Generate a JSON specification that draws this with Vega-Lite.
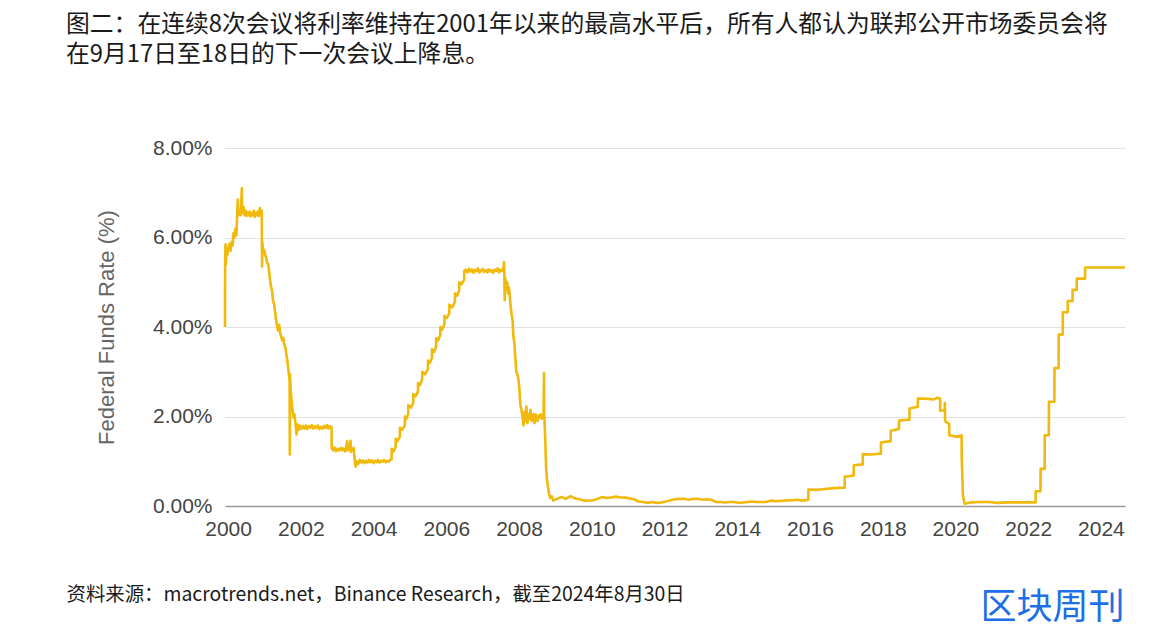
{
  "$schema": "https://vega.github.io/schema/vega-lite/v6.json",
  "width": 900,
  "height": 358,
  "autosize": {"type": "none"},
  "padding": {"left": 225, "top": 148, "right": 45, "bottom": 132},
  "background": "white",
  "title": {
    "text": ["图二：在连续8次会议将利率维持在2001年以来的最高水平后，所有人都认为联邦公开市场委员会将", "在9月17日至18日的下一次会议上降息。"],
    "anchor": "start",
    "frame": "group",
    "dx": -159,
    "offset": 70,
    "font": "Noto Sans CJK SC",
    "fontSize": 23.8,
    "fontWeight": "normal",
    "lineHeight": 30,
    "color": "#1a1a1a"
  },
  "config": {"view": {"stroke": null}},
  "layer": [
    {
      "data": {"values": [
        {"date": "1999-12-01", "rate": 4.00},
        {"date": "1999-12-02", "rate": 5.30},
        {"date": "1999-12-06", "rate": 5.85},
        {"date": "1999-12-10", "rate": 5.40},
        {"date": "1999-12-16", "rate": 5.75},
        {"date": "1999-12-24", "rate": 5.60},
        {"date": "2000-01-05", "rate": 5.78},
        {"date": "2000-01-15", "rate": 5.86},
        {"date": "2000-01-25", "rate": 5.70},
        {"date": "2000-02-05", "rate": 5.90},
        {"date": "2000-02-15", "rate": 5.82},
        {"date": "2000-02-25", "rate": 6.10},
        {"date": "2000-03-05", "rate": 6.00},
        {"date": "2000-03-15", "rate": 6.20},
        {"date": "2000-03-25", "rate": 6.05},
        {"date": "2000-04-01", "rate": 6.50},
        {"date": "2000-04-08", "rate": 6.85},
        {"date": "2000-04-12", "rate": 6.55},
        {"date": "2000-04-22", "rate": 6.50},
        {"date": "2000-05-01", "rate": 6.62},
        {"date": "2000-05-08", "rate": 6.50},
        {"date": "2000-05-18", "rate": 7.10},
        {"date": "2000-05-22", "rate": 6.55},
        {"date": "2000-06-05", "rate": 6.68},
        {"date": "2000-06-15", "rate": 6.50},
        {"date": "2000-06-25", "rate": 6.60},
        {"date": "2000-07-05", "rate": 6.48},
        {"date": "2000-07-15", "rate": 6.56},
        {"date": "2000-07-25", "rate": 6.50},
        {"date": "2000-08-05", "rate": 6.58},
        {"date": "2000-08-15", "rate": 6.47},
        {"date": "2000-08-25", "rate": 6.54},
        {"date": "2000-09-05", "rate": 6.50},
        {"date": "2000-09-15", "rate": 6.60},
        {"date": "2000-09-25", "rate": 6.46},
        {"date": "2000-10-05", "rate": 6.55},
        {"date": "2000-10-15", "rate": 6.50},
        {"date": "2000-10-25", "rate": 6.58},
        {"date": "2000-11-05", "rate": 6.48},
        {"date": "2000-11-15", "rate": 6.66},
        {"date": "2000-11-25", "rate": 6.52},
        {"date": "2000-12-04", "rate": 6.60},
        {"date": "2000-12-07", "rate": 5.35},
        {"date": "2000-12-10", "rate": 5.90},
        {"date": "2000-12-18", "rate": 5.65},
        {"date": "2000-12-28", "rate": 5.72},
        {"date": "2001-01-08", "rate": 5.60},
        {"date": "2001-01-18", "rate": 5.55},
        {"date": "2001-01-28", "rate": 5.42},
        {"date": "2001-02-08", "rate": 5.40},
        {"date": "2001-02-18", "rate": 5.20},
        {"date": "2001-02-26", "rate": 5.05},
        {"date": "2001-03-08", "rate": 4.90},
        {"date": "2001-03-18", "rate": 4.80},
        {"date": "2001-03-28", "rate": 4.58},
        {"date": "2001-04-08", "rate": 4.50},
        {"date": "2001-04-18", "rate": 4.32},
        {"date": "2001-04-28", "rate": 4.15},
        {"date": "2001-05-08", "rate": 4.00},
        {"date": "2001-05-18", "rate": 3.92},
        {"date": "2001-05-28", "rate": 4.05},
        {"date": "2001-06-08", "rate": 3.85},
        {"date": "2001-06-18", "rate": 3.78},
        {"date": "2001-06-28", "rate": 3.70},
        {"date": "2001-07-08", "rate": 3.76},
        {"date": "2001-07-18", "rate": 3.62},
        {"date": "2001-07-28", "rate": 3.55},
        {"date": "2001-08-08", "rate": 3.40},
        {"date": "2001-08-18", "rate": 3.25},
        {"date": "2001-08-28", "rate": 3.05},
        {"date": "2001-09-06", "rate": 2.90},
        {"date": "2001-09-10", "rate": 2.80},
        {"date": "2001-09-12", "rate": 1.15},
        {"date": "2001-09-14", "rate": 2.95},
        {"date": "2001-09-20", "rate": 2.60},
        {"date": "2001-09-28", "rate": 2.40},
        {"date": "2001-10-08", "rate": 2.15},
        {"date": "2001-10-18", "rate": 1.98},
        {"date": "2001-10-28", "rate": 2.05},
        {"date": "2001-11-08", "rate": 1.85},
        {"date": "2001-11-18", "rate": 1.60},
        {"date": "2001-11-28", "rate": 1.82},
        {"date": "2001-12-08", "rate": 1.70},
        {"date": "2001-12-18", "rate": 1.80},
        {"date": "2002-01-05", "rate": 1.72},
        {"date": "2002-01-20", "rate": 1.79},
        {"date": "2002-02-05", "rate": 1.73},
        {"date": "2002-02-20", "rate": 1.80},
        {"date": "2002-03-05", "rate": 1.72},
        {"date": "2002-03-20", "rate": 1.78},
        {"date": "2002-04-05", "rate": 1.75},
        {"date": "2002-04-20", "rate": 1.81},
        {"date": "2002-05-05", "rate": 1.73},
        {"date": "2002-05-20", "rate": 1.78},
        {"date": "2002-06-05", "rate": 1.74},
        {"date": "2002-06-20", "rate": 1.80},
        {"date": "2002-07-05", "rate": 1.72},
        {"date": "2002-07-20", "rate": 1.77},
        {"date": "2002-08-05", "rate": 1.73},
        {"date": "2002-08-20", "rate": 1.79},
        {"date": "2002-09-05", "rate": 1.74},
        {"date": "2002-09-20", "rate": 1.81},
        {"date": "2002-10-05", "rate": 1.73},
        {"date": "2002-10-20", "rate": 1.78},
        {"date": "2002-11-05", "rate": 1.76},
        {"date": "2002-11-07", "rate": 1.30},
        {"date": "2002-11-20", "rate": 1.24},
        {"date": "2002-12-05", "rate": 1.31},
        {"date": "2002-12-20", "rate": 1.22},
        {"date": "2003-01-05", "rate": 1.28},
        {"date": "2003-01-20", "rate": 1.24},
        {"date": "2003-02-05", "rate": 1.30},
        {"date": "2003-02-20", "rate": 1.25},
        {"date": "2003-03-05", "rate": 1.29},
        {"date": "2003-03-20", "rate": 1.22},
        {"date": "2003-04-01", "rate": 1.30},
        {"date": "2003-04-10", "rate": 1.45},
        {"date": "2003-04-14", "rate": 1.24},
        {"date": "2003-05-01", "rate": 1.28},
        {"date": "2003-05-15", "rate": 1.46},
        {"date": "2003-05-18", "rate": 1.21},
        {"date": "2003-06-01", "rate": 1.26},
        {"date": "2003-06-15", "rate": 1.30},
        {"date": "2003-06-26", "rate": 1.02},
        {"date": "2003-07-05", "rate": 0.88},
        {"date": "2003-07-15", "rate": 1.00},
        {"date": "2003-08-01", "rate": 0.94},
        {"date": "2003-08-15", "rate": 1.03},
        {"date": "2003-09-01", "rate": 0.97},
        {"date": "2003-09-15", "rate": 1.02},
        {"date": "2003-10-01", "rate": 0.96},
        {"date": "2003-10-15", "rate": 1.01},
        {"date": "2003-11-01", "rate": 0.97},
        {"date": "2003-11-15", "rate": 1.03},
        {"date": "2003-12-01", "rate": 0.98},
        {"date": "2003-12-15", "rate": 1.02},
        {"date": "2004-01-01", "rate": 0.96},
        {"date": "2004-01-15", "rate": 1.01},
        {"date": "2004-02-01", "rate": 0.98},
        {"date": "2004-02-15", "rate": 1.03},
        {"date": "2004-03-01", "rate": 0.97},
        {"date": "2004-03-15", "rate": 1.01},
        {"date": "2004-04-01", "rate": 0.99},
        {"date": "2004-04-15", "rate": 1.03},
        {"date": "2004-05-01", "rate": 0.98},
        {"date": "2004-05-15", "rate": 1.01},
        {"date": "2004-06-01", "rate": 0.99},
        {"date": "2004-06-15", "rate": 1.03},
        {"date": "2004-06-30", "rate": 1.05},
        {"date": "2004-07-01", "rate": 1.28},
        {"date": "2004-07-20", "rate": 1.22},
        {"date": "2004-08-10", "rate": 1.32},
        {"date": "2004-08-11", "rate": 1.50},
        {"date": "2004-08-25", "rate": 1.44},
        {"date": "2004-09-21", "rate": 1.55},
        {"date": "2004-09-22", "rate": 1.75},
        {"date": "2004-10-15", "rate": 1.70},
        {"date": "2004-11-10", "rate": 1.80},
        {"date": "2004-11-11", "rate": 2.00},
        {"date": "2004-11-25", "rate": 1.94},
        {"date": "2004-12-14", "rate": 2.06},
        {"date": "2004-12-15", "rate": 2.25},
        {"date": "2005-01-10", "rate": 2.20},
        {"date": "2005-02-02", "rate": 2.30},
        {"date": "2005-02-03", "rate": 2.50},
        {"date": "2005-02-25", "rate": 2.45},
        {"date": "2005-03-22", "rate": 2.56},
        {"date": "2005-03-23", "rate": 2.75},
        {"date": "2005-04-10", "rate": 2.70},
        {"date": "2005-05-03", "rate": 2.82},
        {"date": "2005-05-04", "rate": 3.00},
        {"date": "2005-06-01", "rate": 2.94},
        {"date": "2005-06-30", "rate": 3.06},
        {"date": "2005-07-01", "rate": 3.25},
        {"date": "2005-07-20", "rate": 3.20},
        {"date": "2005-08-09", "rate": 3.30},
        {"date": "2005-08-10", "rate": 3.50},
        {"date": "2005-08-30", "rate": 3.44},
        {"date": "2005-09-20", "rate": 3.56},
        {"date": "2005-09-21", "rate": 3.75},
        {"date": "2005-10-10", "rate": 3.70},
        {"date": "2005-11-01", "rate": 3.82},
        {"date": "2005-11-02", "rate": 4.00},
        {"date": "2005-11-20", "rate": 3.94},
        {"date": "2005-12-13", "rate": 4.06},
        {"date": "2005-12-14", "rate": 4.25},
        {"date": "2006-01-05", "rate": 4.20},
        {"date": "2006-01-31", "rate": 4.31},
        {"date": "2006-02-01", "rate": 4.50},
        {"date": "2006-03-01", "rate": 4.44},
        {"date": "2006-03-28", "rate": 4.56},
        {"date": "2006-03-29", "rate": 4.75},
        {"date": "2006-04-20", "rate": 4.70},
        {"date": "2006-05-10", "rate": 4.82},
        {"date": "2006-05-11", "rate": 5.00},
        {"date": "2006-06-01", "rate": 4.95},
        {"date": "2006-06-29", "rate": 5.06},
        {"date": "2006-06-30", "rate": 5.25},
        {"date": "2006-07-15", "rate": 5.28},
        {"date": "2006-08-01", "rate": 5.22},
        {"date": "2006-08-15", "rate": 5.30},
        {"date": "2006-09-01", "rate": 5.24},
        {"date": "2006-09-15", "rate": 5.29},
        {"date": "2006-10-01", "rate": 5.21},
        {"date": "2006-10-15", "rate": 5.27},
        {"date": "2006-11-01", "rate": 5.25},
        {"date": "2006-11-15", "rate": 5.31},
        {"date": "2006-12-01", "rate": 5.22},
        {"date": "2006-12-15", "rate": 5.26},
        {"date": "2007-01-01", "rate": 5.30},
        {"date": "2007-01-15", "rate": 5.23},
        {"date": "2007-02-01", "rate": 5.27},
        {"date": "2007-02-15", "rate": 5.22},
        {"date": "2007-03-01", "rate": 5.29},
        {"date": "2007-03-15", "rate": 5.24},
        {"date": "2007-04-01", "rate": 5.27},
        {"date": "2007-04-15", "rate": 5.21},
        {"date": "2007-05-01", "rate": 5.28},
        {"date": "2007-05-15", "rate": 5.25},
        {"date": "2007-06-01", "rate": 5.31},
        {"date": "2007-06-15", "rate": 5.22},
        {"date": "2007-07-01", "rate": 5.28},
        {"date": "2007-07-15", "rate": 5.25},
        {"date": "2007-07-28", "rate": 5.30},
        {"date": "2007-08-03", "rate": 5.45},
        {"date": "2007-08-06", "rate": 5.20},
        {"date": "2007-08-10", "rate": 4.60},
        {"date": "2007-08-15", "rate": 5.10},
        {"date": "2007-08-25", "rate": 4.85},
        {"date": "2007-09-05", "rate": 5.00},
        {"date": "2007-09-12", "rate": 4.75},
        {"date": "2007-09-22", "rate": 4.88},
        {"date": "2007-10-01", "rate": 4.65},
        {"date": "2007-10-10", "rate": 4.45},
        {"date": "2007-10-20", "rate": 4.25},
        {"date": "2007-10-28", "rate": 4.15},
        {"date": "2007-11-05", "rate": 3.80},
        {"date": "2007-11-15", "rate": 3.65},
        {"date": "2007-11-25", "rate": 3.30},
        {"date": "2007-12-05", "rate": 3.00},
        {"date": "2007-12-15", "rate": 2.95},
        {"date": "2007-12-25", "rate": 2.85},
        {"date": "2008-01-05", "rate": 2.60},
        {"date": "2008-01-15", "rate": 2.25},
        {"date": "2008-01-25", "rate": 2.15},
        {"date": "2008-02-05", "rate": 2.00},
        {"date": "2008-02-15", "rate": 1.80},
        {"date": "2008-02-25", "rate": 2.10},
        {"date": "2008-03-05", "rate": 1.90},
        {"date": "2008-03-15", "rate": 2.22},
        {"date": "2008-03-25", "rate": 1.85},
        {"date": "2008-04-05", "rate": 2.05},
        {"date": "2008-04-15", "rate": 1.95},
        {"date": "2008-04-25", "rate": 2.15},
        {"date": "2008-05-05", "rate": 1.90},
        {"date": "2008-05-15", "rate": 2.00},
        {"date": "2008-05-25", "rate": 2.05},
        {"date": "2008-06-05", "rate": 1.85},
        {"date": "2008-06-15", "rate": 2.05},
        {"date": "2008-06-25", "rate": 2.00},
        {"date": "2008-07-05", "rate": 1.90},
        {"date": "2008-07-15", "rate": 2.02},
        {"date": "2008-07-25", "rate": 1.98},
        {"date": "2008-08-05", "rate": 2.05},
        {"date": "2008-08-15", "rate": 1.95},
        {"date": "2008-08-25", "rate": 2.02},
        {"date": "2008-09-03", "rate": 2.00},
        {"date": "2008-09-08", "rate": 2.97},
        {"date": "2008-09-10", "rate": 2.10},
        {"date": "2008-09-20", "rate": 1.50},
        {"date": "2008-09-30", "rate": 0.80},
        {"date": "2008-10-10", "rate": 0.55},
        {"date": "2008-10-20", "rate": 0.40},
        {"date": "2008-10-30", "rate": 0.25},
        {"date": "2008-11-10", "rate": 0.18},
        {"date": "2008-11-25", "rate": 0.22},
        {"date": "2008-12-10", "rate": 0.12},
        {"date": "2009-01-15", "rate": 0.16},
        {"date": "2009-03-01", "rate": 0.20},
        {"date": "2009-04-15", "rate": 0.16},
        {"date": "2009-06-01", "rate": 0.22},
        {"date": "2009-07-15", "rate": 0.17},
        {"date": "2009-09-01", "rate": 0.15},
        {"date": "2009-10-15", "rate": 0.12},
        {"date": "2009-12-01", "rate": 0.12},
        {"date": "2010-01-15", "rate": 0.13},
        {"date": "2010-03-01", "rate": 0.16},
        {"date": "2010-04-15", "rate": 0.20},
        {"date": "2010-06-01", "rate": 0.18},
        {"date": "2010-07-15", "rate": 0.19},
        {"date": "2010-09-01", "rate": 0.21},
        {"date": "2010-10-15", "rate": 0.19},
        {"date": "2010-12-01", "rate": 0.19},
        {"date": "2011-01-15", "rate": 0.17},
        {"date": "2011-03-01", "rate": 0.15},
        {"date": "2011-04-15", "rate": 0.10},
        {"date": "2011-06-01", "rate": 0.09},
        {"date": "2011-07-15", "rate": 0.07},
        {"date": "2011-09-01", "rate": 0.09},
        {"date": "2011-10-15", "rate": 0.07},
        {"date": "2011-12-01", "rate": 0.08},
        {"date": "2012-01-15", "rate": 0.10},
        {"date": "2012-03-01", "rate": 0.13},
        {"date": "2012-04-15", "rate": 0.15},
        {"date": "2012-06-01", "rate": 0.16},
        {"date": "2012-07-15", "rate": 0.16},
        {"date": "2012-09-01", "rate": 0.14},
        {"date": "2012-10-15", "rate": 0.16},
        {"date": "2012-12-01", "rate": 0.16},
        {"date": "2013-01-15", "rate": 0.14},
        {"date": "2013-03-01", "rate": 0.15},
        {"date": "2013-04-15", "rate": 0.14},
        {"date": "2013-06-01", "rate": 0.09},
        {"date": "2013-07-15", "rate": 0.09},
        {"date": "2013-09-01", "rate": 0.08},
        {"date": "2013-10-15", "rate": 0.09},
        {"date": "2013-12-01", "rate": 0.09},
        {"date": "2014-01-15", "rate": 0.07},
        {"date": "2014-03-01", "rate": 0.08},
        {"date": "2014-04-15", "rate": 0.09},
        {"date": "2014-06-01", "rate": 0.10},
        {"date": "2014-07-15", "rate": 0.09},
        {"date": "2014-09-01", "rate": 0.09},
        {"date": "2014-10-15", "rate": 0.09},
        {"date": "2014-12-01", "rate": 0.12},
        {"date": "2015-01-15", "rate": 0.11},
        {"date": "2015-03-01", "rate": 0.11},
        {"date": "2015-04-15", "rate": 0.12},
        {"date": "2015-06-01", "rate": 0.13},
        {"date": "2015-07-15", "rate": 0.13},
        {"date": "2015-09-01", "rate": 0.14},
        {"date": "2015-10-15", "rate": 0.12},
        {"date": "2015-12-15", "rate": 0.14},
        {"date": "2015-12-17", "rate": 0.37},
        {"date": "2016-03-01", "rate": 0.36},
        {"date": "2016-06-01", "rate": 0.38},
        {"date": "2016-09-01", "rate": 0.40},
        {"date": "2016-12-14", "rate": 0.41},
        {"date": "2016-12-15", "rate": 0.66},
        {"date": "2017-01-15", "rate": 0.66},
        {"date": "2017-03-15", "rate": 0.68},
        {"date": "2017-03-16", "rate": 0.91},
        {"date": "2017-06-14", "rate": 0.93},
        {"date": "2017-06-15", "rate": 1.16},
        {"date": "2017-09-01", "rate": 1.15},
        {"date": "2017-12-13", "rate": 1.17},
        {"date": "2017-12-14", "rate": 1.42},
        {"date": "2018-03-21", "rate": 1.45},
        {"date": "2018-03-22", "rate": 1.68},
        {"date": "2018-06-13", "rate": 1.72},
        {"date": "2018-06-14", "rate": 1.91},
        {"date": "2018-09-26", "rate": 1.93},
        {"date": "2018-09-27", "rate": 2.18},
        {"date": "2018-12-19", "rate": 2.22},
        {"date": "2018-12-20", "rate": 2.40},
        {"date": "2019-03-01", "rate": 2.40},
        {"date": "2019-06-01", "rate": 2.38},
        {"date": "2019-07-01", "rate": 2.42},
        {"date": "2019-07-31", "rate": 2.40},
        {"date": "2019-08-01", "rate": 2.13},
        {"date": "2019-09-16", "rate": 2.14},
        {"date": "2019-09-17", "rate": 2.30},
        {"date": "2019-09-19", "rate": 1.90},
        {"date": "2019-10-30", "rate": 1.83},
        {"date": "2019-10-31", "rate": 1.58},
        {"date": "2020-01-15", "rate": 1.55},
        {"date": "2020-03-03", "rate": 1.58},
        {"date": "2020-03-04", "rate": 1.10},
        {"date": "2020-03-16", "rate": 0.25},
        {"date": "2020-04-01", "rate": 0.05},
        {"date": "2020-06-01", "rate": 0.08},
        {"date": "2020-09-01", "rate": 0.09},
        {"date": "2020-12-01", "rate": 0.09},
        {"date": "2021-03-01", "rate": 0.07},
        {"date": "2021-06-01", "rate": 0.08},
        {"date": "2021-09-01", "rate": 0.08},
        {"date": "2021-12-01", "rate": 0.08},
        {"date": "2022-03-16", "rate": 0.08},
        {"date": "2022-03-17", "rate": 0.33},
        {"date": "2022-05-04", "rate": 0.33},
        {"date": "2022-05-05", "rate": 0.83},
        {"date": "2022-06-15", "rate": 0.83},
        {"date": "2022-06-16", "rate": 1.58},
        {"date": "2022-07-27", "rate": 1.58},
        {"date": "2022-07-28", "rate": 2.33},
        {"date": "2022-09-21", "rate": 2.33},
        {"date": "2022-09-22", "rate": 3.08},
        {"date": "2022-11-02", "rate": 3.08},
        {"date": "2022-11-03", "rate": 3.83},
        {"date": "2022-12-14", "rate": 3.83},
        {"date": "2022-12-15", "rate": 4.33},
        {"date": "2023-02-01", "rate": 4.33},
        {"date": "2023-02-02", "rate": 4.58},
        {"date": "2023-03-22", "rate": 4.58},
        {"date": "2023-03-23", "rate": 4.83},
        {"date": "2023-05-03", "rate": 4.83},
        {"date": "2023-05-04", "rate": 5.08},
        {"date": "2023-07-26", "rate": 5.08},
        {"date": "2023-07-27", "rate": 5.33},
        {"date": "2024-08-30", "rate": 5.33}
      ]},
      "mark": {"type": "line", "color": "#f0b90b", "strokeWidth": 2.6, "strokeJoin": "round"},
      "encoding": {
        "x": {
          "field": "date", "type": "temporal",
          "scale": {"domain": ["1999-12-01", "2024-08-30"], "nice": false},
          "axis": {
            "values": ["2000-01-01", "2002-01-01", "2004-01-01", "2006-01-01", "2008-01-01", "2010-01-01", "2012-01-01", "2014-01-01", "2016-01-01", "2018-01-01", "2020-01-01", "2022-01-01", "2024-01-01"],
            "format": "%Y",
            "grid": false,
            "ticks": false,
            "domain": true,
            "domainColor": "#9a9a9a",
            "domainWidth": 1.5,
            "labelFont": "Liberation Sans",
            "labelFontSize": 21,
            "labelColor": "#444444",
            "labelPadding": 12,
            "title": "资料来源：macrotrends.net，Binance Research，截至2024年8月30日",
            "titleFont": "Noto Sans CJK SC",
            "titleFontSize": 19.4,
            "titleFontWeight": "normal",
            "titleColor": "#1a1a1a",
            "titleX": -159,
            "titleY": 88,
            "titleAlign": "left",
            "titleBaseline": "middle",
            "titleAnchor": null
          }
        },
        "y": {
          "field": "rate", "type": "quantitative",
          "scale": {"domain": [0, 8], "nice": false},
          "axis": {
            "values": [0, 2, 4, 6, 8],
            "labelExpr": "format(datum.value, '.2f') + '%'",
            "grid": true,
            "gridColor": "#e0e0e0",
            "gridWidth": 1.2,
            "ticks": false,
            "domain": false,
            "labelFont": "Liberation Sans",
            "labelFontSize": 21,
            "labelColor": "#444444",
            "labelPadding": 13,
            "title": "Federal Funds Rate (%)",
            "titleFont": "Liberation Sans",
            "titleFontSize": 22,
            "titleFontWeight": "normal",
            "titleColor": "#666666",
            "titleX": -119,
            "titleY": 179,
            "titleAngle": -90,
            "titleAlign": "center",
            "titleBaseline": "middle"
          }
        }
      }
    },
    {
      "data": {"values": [{"label": "区块周刊", "date": "2022-09-01", "rate": -2.27}]},
      "mark": {"type": "text", "font": "Noto Sans CJK SC", "fontSize": 36, "fontWeight": "normal", "color": "#1c6fe6", "align": "center", "baseline": "middle", "clip": false},
      "encoding": {
        "x": {"field": "date", "type": "temporal"},
        "y": {"field": "rate", "type": "quantitative"},
        "text": {"field": "label"}
      }
    }
  ]
}
